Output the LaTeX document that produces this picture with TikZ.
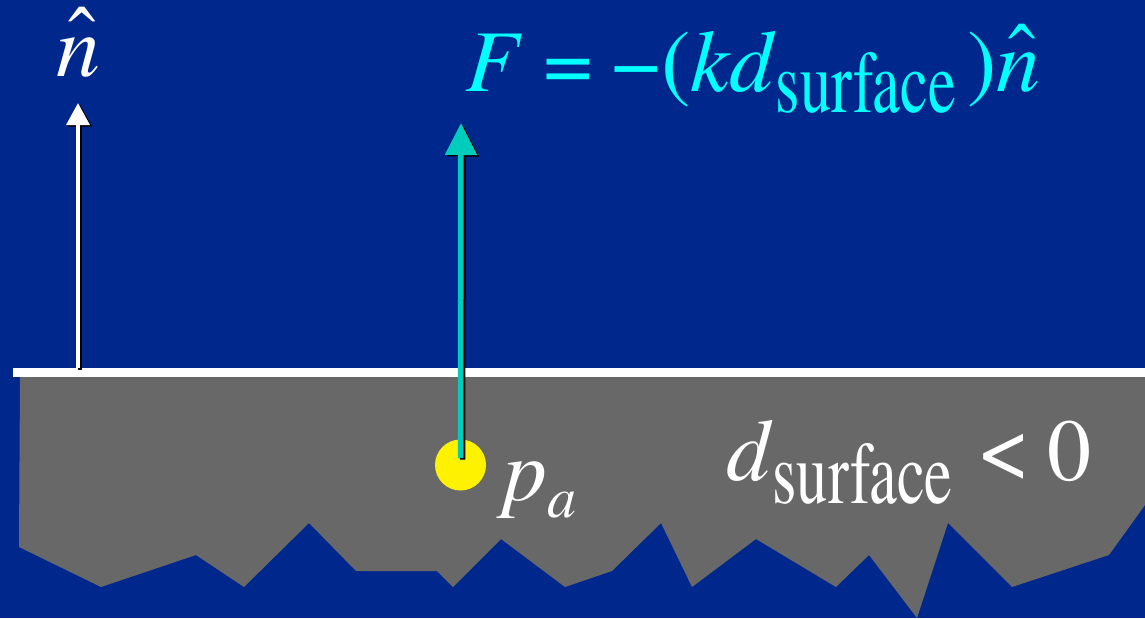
\documentclass[tikz,border=0pt]{standalone}
\usepackage{fontspec}
\setmainfont{texgyretermes}[Extension=.otf, UprightFont=*-regular, ItalicFont=*-italic, BoldFont=*-bold, BoldItalicFont=*-bolditalic]
\usepackage{graphicx}
\usetikzlibrary{arrows.meta}
\definecolor{bgblue}{RGB}{0,40,140}
\definecolor{ground}{RGB}{104,104,104}
\definecolor{forceteal}{RGB}{0,204,187}
\definecolor{formcyan}{RGB}{0,255,255}
\definecolor{ptyellow}{RGB}{255,242,0}
\newcommand{\nhatsym}[1][0pt]{\rlap{\kern11pt\raisebox{#1}{ˆ}}\textit{n}}
\begin{document}
\begin{tikzpicture}[x=1pt,y=-1pt,
  bigtext/.style={inner sep=0pt, anchor=base west, font=\fontsize{88}{94}\selectfont},
  whitearrow/.style={draw=white, line width=3.5pt, -{Triangle[width=23pt,length=22pt]}},
  tealarrow/.style={draw=forceteal, line width=5.5pt, -{Triangle[width=31pt,length=32pt]}},
  arrowshadow/.style={draw=black, transform canvas={xshift=2pt,yshift=-1.5pt}}
]
\useasboundingbox (0,0) rectangle (1145,618);
\fill[bgblue] (0,0) rectangle (1145,618);
% ground with jagged bottom
\fill[ground] (20,377) -- (1145,377) -- (1145,505) -- (1109,555) -- (1012,587)
  -- (948,523) -- (917,618) -- (869,555) -- (836,587) -- (756,539) -- (692,587)
  -- (661,523) -- (612,571) -- (565,587) -- (501,539) -- (453,587) -- (437,571)
  -- (356,571) -- (309,523) -- (244,587) -- (196,555) -- (101,587) -- (19,547) -- cycle;
% surface line
\coordinate (sl) at (13,372.5);
\coordinate (sr) at (1145,372.5);
\draw[white, line width=9pt] (sl) -- (sr);
% normal arrow
\coordinate (nbase) at (78,368);
\coordinate (ntip) at (78,103);
\draw[whitearrow, arrowshadow] (nbase) -- (ntip);
\draw[whitearrow] (nbase) -- (ntip);
% point and force arrow
\node[circle, fill=ptyellow, minimum size=51pt, inner sep=0pt] (pa) at (460.5,465) {};
\coordinate (ftip) at (461,123);
\draw[tealarrow, arrowshadow, shorten <=7pt] (pa.center) -- (ftip);
\draw[tealarrow, shorten <=7pt] (pa.center) -- (ftip);
% labels
\node[bigtext, text=white] (nlabel) at (56,77) {\nhatsym[10pt]};
\node[bigtext, text=formcyan] (force) at (465,91)
  {\textit{F}\hspace{22pt}=\hspace{18pt}−(\textit{kd}\raisebox{-21pt}{\scalebox{0.71}[1]{surface}}\hspace{11pt})\nhatsym[7pt]};
\node[bigtext, text=white] (plabel) at (503,500)
  {\textit{p}\raisebox{-17pt}{\fontsize{58}{62}\selectfont\textit{a}}};
\node[bigtext, text=white] (dlabel) at (726,480)
  {\textit{d}\raisebox{-23pt}{\scalebox{0.71}[1]{surface}}\hspace{25pt}\scalebox{1.08}{<}\hspace{16pt}0};
\end{tikzpicture}
\end{document}
